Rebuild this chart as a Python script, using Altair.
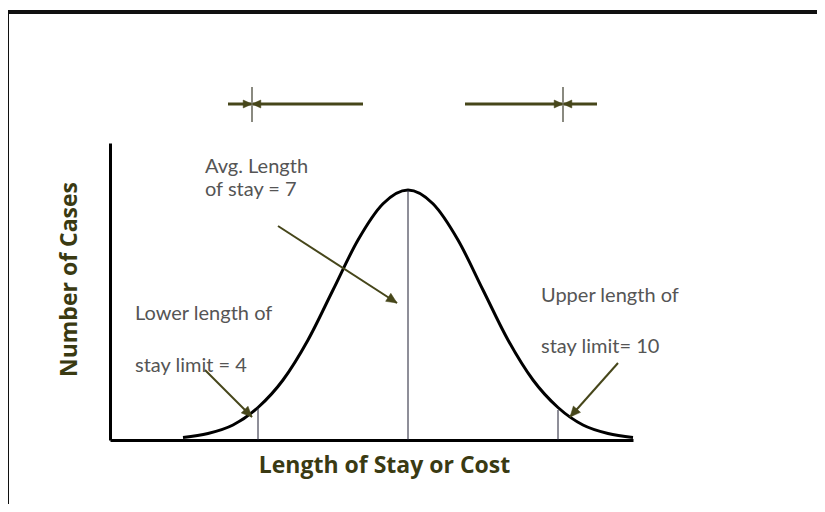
import altair as alt
import pandas as pd
import math

# --- data ---
curve_x = [2.5, 3.0, 3.5, 4.0, 4.5, 5.0, 5.5, 6.0, 6.5, 7.0,
           7.5, 8.0, 8.5, 9.0, 9.5, 10.0, 10.5, 11.0, 11.5]
curve_y = [1, 2.6, 6, 13, 24, 40, 60, 80, 94.5, 100,
           94.5, 80, 60, 40, 24, 13, 6, 2.6, 1]

limit_x = [4, 7, 10]
limit_top = [13, 100, 12]

label_text = ["Avg. Length", "of stay = 7", "Lower length of", "stay limit = 4",
              "Upper length of", "stay limit= 10"]
label_x = [2.94, 2.94, 1.54, 1.54, 9.66, 9.66]
label_y = [109.2, 100.0, 50.4, 29.6, 57.6, 37.2]

arrow_x1 = [4.40, 2.94, 11.20]
arrow_y1 = [85.6, 28.0, 30.8]
arrow_x2 = [6.78, 3.88, 10.24]
arrow_y2 = [54.8, 9.2, 9.2]

# top range markers
top_line_x1 = [3.40, 6.10, 8.14, 10.78]
top_line_x2 = [3.88, 3.88, 10.10, 10.10]
top_y = 134.4
top_tick_x = [3.88, 10.10]
top_tick_y1 = 141.2
top_tick_y2 = 127.2

XDOM = [1.04, 11.5]
YDOM = [0, 118.8]
W, H = 523, 297
OLIVE = "#46461a"
TITLE_C = "#3a3a12"
TEXT_C = "#555555"
HEAD = "M0,0L1,2.2L-1,2.2Z"   # arrowhead, tip at the anchor, pointing up before rotation

xs = alt.Scale(domain=XDOM, nice=False, zero=False)
ys = alt.Scale(domain=YDOM, nice=False, zero=False)
ax_x = alt.Axis(title="Length of Stay or Cost", labels=False, ticks=False, grid=False,
                domainColor="black", domainWidth=3, titleFont="Open Sans", titleFontSize=23,
                titleFontWeight="bold", titleColor=TITLE_C, titlePadding=14, titleX=274)
ax_y = alt.Axis(title="Number of Cases", labels=False, ticks=False, grid=False,
                domainColor="black", domainWidth=3, titleFont="Open Sans", titleFontSize=23,
                titleFontWeight="bold", titleColor=TITLE_C, titlePadding=29, titleY=136)


def X(f):
    return alt.X(f, scale=xs, axis=ax_x)


def Y(f):
    return alt.Y(f, scale=ys, axis=ax_y)


curve_df = pd.DataFrame({"x": curve_x, "y": curve_y})
curve = alt.Chart(curve_df).mark_line(color="black", strokeWidth=3, interpolate="monotone").encode(
    x=X("x:Q"), y=Y("y:Q"))

lim_df = pd.DataFrame({"x": limit_x, "top": limit_top, "base": [0, 0, 0]})
limits = alt.Chart(lim_df).mark_rule(color="#1f1f33", strokeWidth=1).encode(
    x=X("x:Q"), y=Y("base:Q"), y2="top:Q")

lab_df = pd.DataFrame({"t": label_text, "x": label_x, "y": label_y})
labels = alt.Chart(lab_df).mark_text(align="left", baseline="middle", font="Lato",
                                     fontSize=20, color=TEXT_C).encode(
    x=X("x:Q"), y=Y("y:Q"), text="t:N")

px_per_x = W / (XDOM[1] - XDOM[0])
px_per_y = H / (YDOM[1] - YDOM[0])
angles = []
for a, b, c, d in zip(arrow_x1, arrow_y1, arrow_x2, arrow_y2):
    dx = (c - a) * px_per_x
    dy = -(d - b) * px_per_y
    angles.append(round(math.degrees(math.atan2(dx, -dy)) % 360, 1))

arr_df = pd.DataFrame({"ax1": arrow_x1, "ay1": arrow_y1, "ax2": arrow_x2, "ay2": arrow_y2, "ang": angles})
arrows = alt.Chart(arr_df).mark_rule(color=OLIVE, strokeWidth=2).encode(
    x=X("ax1:Q"), y=Y("ay1:Q"), x2="ax2:Q", y2="ay2:Q")
heads = alt.Chart(arr_df).mark_point(shape=HEAD, filled=True, fill=OLIVE, stroke=OLIVE,
                                     strokeWidth=0.5, opacity=1).encode(
    x=X("ax2:Q"), y=Y("ay2:Q"),
    angle=alt.Angle("ang:Q", scale=None),
    size=alt.value(90))

top_df = pd.DataFrame({"tx1": top_line_x1, "tx2": top_line_x2, "ty": [top_y] * 4,
                       "ang": [90 if a < b else 270 for a, b in zip(top_line_x1, top_line_x2)]})
top_lines = alt.Chart(top_df).mark_rule(color=OLIVE, strokeWidth=3).encode(
    x=X("tx1:Q"), x2="tx2:Q", y=Y("ty:Q"))
top_heads = alt.Chart(top_df).mark_point(shape=HEAD, filled=True, fill=OLIVE, stroke=OLIVE,
                                         strokeWidth=0.5, opacity=1).encode(
    x=X("tx2:Q"), y=Y("ty:Q"),
    angle=alt.Angle("ang:Q", scale=None),
    size=alt.value(64))
tick_df = pd.DataFrame({"kx": top_tick_x, "ky1": [top_tick_y1] * 2, "ky2": [top_tick_y2] * 2})
top_ticks = alt.Chart(tick_df).mark_rule(color="#8a8a80", strokeWidth=2).encode(
    x=X("kx:Q"), y=Y("ky1:Q"), y2="ky2:Q")

# decorative page border (top and left edges only, as in the reference)
border_top = alt.Chart(curve_df).mark_rule(color="#111111", strokeWidth=3).encode(
    x=alt.value(-103), x2=alt.value(720), y=alt.value(-131))
border_left = alt.Chart(curve_df).mark_rule(color="#111111", strokeWidth=3).encode(
    x=alt.value(-103), y=alt.value(-131), y2=alt.value(380))

chart = alt.layer(
    curve, border_top, border_left, limits, arrows, heads, labels,
    top_lines, top_ticks, top_heads,
).properties(
    width=W, height=H,
    autosize=alt.AutoSizeParams(type="none"),
    padding={"left": 102, "top": 135, "right": 184, "bottom": 64},
).configure_view(stroke=None)

chart.save("out.html", embed_options={"renderer": "svg", "actions": False})
